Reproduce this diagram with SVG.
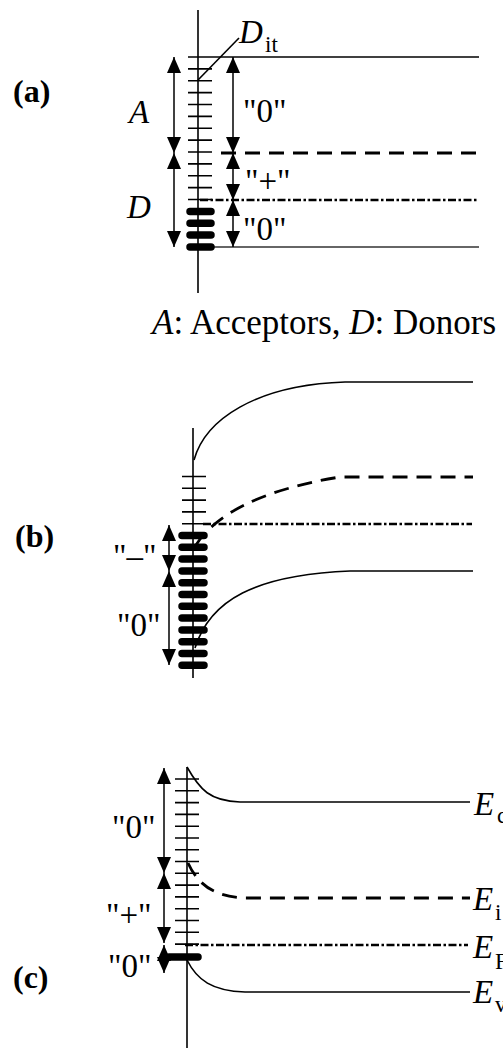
<svg xmlns="http://www.w3.org/2000/svg" width="503" height="1049" viewBox="0 0 503 1049">
<style>
.ln{fill:none;stroke:#000;stroke-width:1.6}
.thin{fill:none;stroke:#333;stroke-width:1.3}
.dash{fill:none;stroke:#000;stroke-width:2.8;stroke-dasharray:15 9}
.dd{fill:none;stroke:#000;stroke-width:2.4;stroke-dasharray:8 2.5 2.5 2.5}
.tick{fill:none;stroke:#000;stroke-width:1.6}
.bar{fill:none;stroke:#000;stroke-width:7.5;stroke-linecap:round}
.arr{fill:none;stroke:#000;stroke-width:1.5;marker-start:url(#ah);marker-end:url(#ah)}
text{font-family:"Liberation Serif","Times New Roman",serif;fill:#000}
.lbl{font-size:33px}
.cap{font-size:35px}
.it{font-style:italic}
.b{font-weight:bold;font-size:32px}
.sub{font-size:23px}
</style>
<defs>
<marker id="ah" viewBox="0 0 16 14" refX="16" refY="7" markerWidth="16" markerHeight="14" markerUnits="userSpaceOnUse" orient="auto-start-reverse">
<path d="M0,0 L16,7 L0,14 Z" fill="#000"/>
</marker>
</defs>

<g id="panel-a">
<text class="b" x="13" y="102">(a)</text>
<line class="ln" x1="198" y1="10" x2="198" y2="293"/>
<line class="ln" x1="188" y1="57" x2="479" y2="57"/>
<line class="dash" x1="221" y1="153" x2="483" y2="153"/>
<line class="dd" x1="200" y1="200" x2="477" y2="200"/>
<line class="thin" x1="214" y1="247" x2="479" y2="247"/>
<path class="tick" d="M188,68.9H212M188,80.8H212M188,92.6H212M188,104.5H212M188,116.4H212M188,128.3H212M188,140.1H212M188,152H212M188,163.9H212M188,175.8H212M188,187.6H212M188,199.5H212"/>
<path class="bar" d="M190,211.4H211M190,223.3H211M190,235.1H211M190,247H211"/>
<line class="ln" x1="198" y1="80" x2="239" y2="38"/>
<text class="lbl it" x="239" y="43">D</text><text class="sub" x="265" y="52">it</text>
<text class="lbl it" x="129" y="123">A</text>
<text class="lbl it" x="127" y="218">D</text>
<text class="lbl" x="243" y="122">"0"</text>
<text class="lbl" x="245" y="192">"+"</text>
<text class="lbl" x="243" y="240">"0"</text>
</g>

<g id="caption">
<text class="cap" x="152" y="334"><tspan class="it">A</tspan>: Acceptors, <tspan class="it">D</tspan>: Donors</text>
</g>

<g id="panel-b">
<text class="b" x="15" y="547">(b)</text>
<line class="ln" x1="193" y1="428" x2="193" y2="678"/>
<path class="ln" d="M194,460 C205,420 255,385 345,382 L473,382"/>
<path class="dash" d="M196,545 C215,515 260,490 340,477 L473,477"/>
<line class="dd" x1="203" y1="524" x2="472" y2="524"/>
<path class="ln" d="M195,648 C210,600 255,575 350,571 L473,571"/>
<path class="tick" d="M182,476.5H206M182,488.3H206M182,500.1H206M182,511.9H206M182,523.7H206"/>
<path class="bar" d="M182,535.5H204M182,547.3H204M182,559.1H204M182,570.9H204M182,582.7H204M182,594.5H204M182,606.3H204M182,618.1H204M182,629.9H204M182,641.7H204M182,653.5H204M182,665.3H204"/>
<text class="lbl" x="113" y="567">"–"</text>
<text class="lbl" x="117" y="636">"0"</text>
</g>

<g id="panel-c">
<text class="b" x="13" y="988">(c)</text>
<line class="ln" x1="187" y1="767" x2="187" y2="1048"/>
<path class="ln" d="M187,767 C200,790 210,801 240,802 L470,802"/>
<path class="dash" d="M188,863 C198,885 215,897 245,898 L470,898"/>
<line class="dd" x1="185" y1="945" x2="468" y2="945"/>
<path class="ln" d="M187,960 C197,980 212,991 245,992 L470,992"/>
<path class="tick" d="M175,779H199M175,790.8H199M175,802.6H199M175,814.4H199M175,826.2H199M175,838H199M175,849.7H199M175,861.5H199M175,873.3H199M175,885.1H199M175,896.9H199M175,908.7H199M175,920.5H199M175,932.3H199M175,944.1H199"/>
<path class="bar" d="M169,957H198"/>
<text class="lbl" x="112" y="838">"0"</text>
<text class="lbl" x="106" y="926">"+"</text>
<text class="lbl" x="108" y="977">"0"</text>
<text class="lbl it" x="474" y="815">E</text><text class="sub" x="497" y="823">c</text>
<text class="lbl it" x="473" y="910">E</text><text class="sub" x="495" y="920">i</text>
<text class="lbl it" x="473" y="958">E</text><text class="sub" x="495" y="969">F</text>
<text class="lbl it" x="473" y="1003">E</text><text class="sub" x="495" y="1012">v</text>
</g>

<g id="connectors">
<line class="arr" x1="174" y1="57" x2="174" y2="153"/>
<line class="arr" x1="174" y1="153" x2="174" y2="247"/>
<line class="arr" x1="233" y1="57" x2="233" y2="153"/>
<line class="arr" x1="233" y1="153" x2="233" y2="200"/>
<line class="arr" x1="233" y1="200" x2="233" y2="247"/>
<line class="arr" x1="169" y1="525" x2="169" y2="571"/>
<line class="arr" x1="169" y1="571" x2="169" y2="665"/>
<line class="arr" x1="164" y1="768" x2="164" y2="873"/>
<line class="arr" x1="164" y1="873" x2="164" y2="943"/>
<line class="arr" x1="164" y1="945" x2="164" y2="973"/>
</g>
</svg>
